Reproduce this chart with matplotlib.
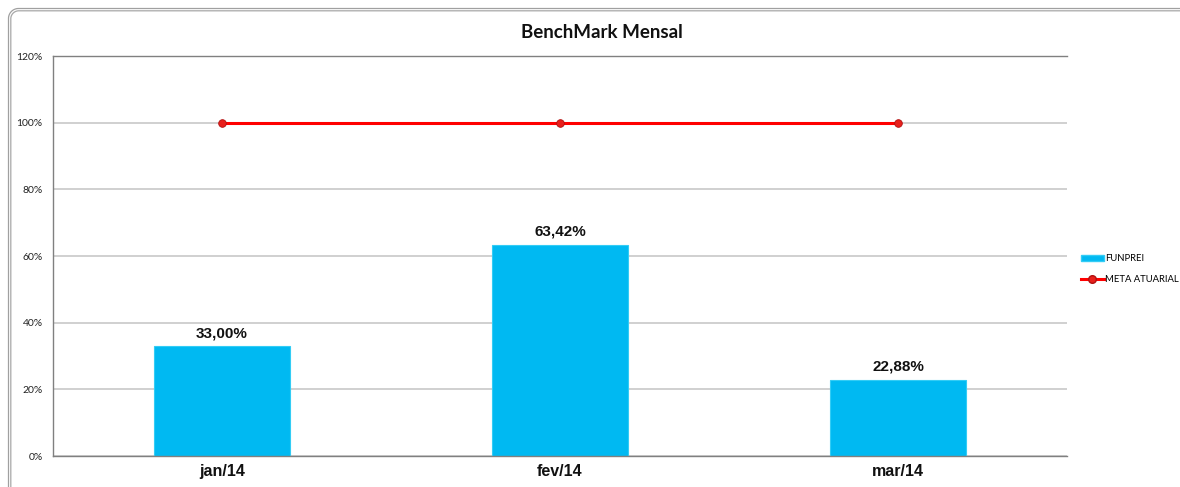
import matplotlib
matplotlib.use("Agg")
import matplotlib.pyplot as plt
from matplotlib.lines import Line2D
from matplotlib.patches import Patch
from matplotlib.transforms import IdentityTransform
import numpy as np

categories = ["jan/14", "fev/14", "mar/14"]
funprei = [33.00, 63.42, 22.88]
meta_atuarial = [100, 100, 100]
bar_labels = ["33,00%", "63,42%", "22,88%"]
yticks = [0, 20, 40, 60, 80, 100, 120]
ytick_labels = ["0%", "20%", "40%", "60%", "80%", "100%", "120%"]

W, H = 1180, 487
fig = plt.figure(figsize=(W / 100, H / 100), dpi=100)
fig.patch.set_facecolor("white")

# outer rounded frame: double line on left and top with rounded top-left corner
def frame_line(off, r, color, lw):
    cx, cy = off + r, H - off - r
    theta = np.linspace(np.pi, np.pi / 2, 24)
    fx = np.concatenate([[off], cx + r * np.cos(theta), [W + 20]])
    fy = np.concatenate([[-20], cy + r * np.sin(theta), [H - off]])
    fig.add_artist(Line2D(fx, fy, transform=IdentityTransform(), color=color,
                          linewidth=lw, zorder=0, solid_capstyle="butt"))

frame_line(8.5, 10, "#A0A0A0", 0.9)
frame_line(10.8, 8, "#A8A8A8", 0.9)

ax = fig.add_axes([53 / W, 31 / H, (1067 - 53) / W, (456 - 56) / H])
x = np.arange(len(categories))

ax.set_xlim(-0.5, len(categories) - 0.5)
ax.set_ylim(0, 120)
ax.set_yticks(yticks)
ax.set_yticklabels(ytick_labels, fontsize=7.5, color="#222222", family="Lato")
ax.yaxis.grid(True, color="#C8C8C8", linewidth=1.2, zorder=0)
ax.set_axisbelow(True)
ax.tick_params(axis="y", length=0, pad=7.5)
ax.tick_params(axis="x", length=0, pad=6)

bars = ax.bar(x, funprei, width=0.40, color="#00B9F2", edgecolor="#33CCF5",
              linewidth=0.8, zorder=2, label="FUNPREI")
for xi, v, lab in zip(x, funprei, bar_labels):
    ax.text(xi, v + 1.8, lab, ha="center", va="bottom", fontsize=11,
            fontweight="bold", family="Liberation Sans", color="#111111", zorder=4)

ax.plot(x, meta_atuarial, color="#FF0000", linewidth=2.2, marker="o",
        markersize=5.5, markerfacecolor="#E8201C", markeredgecolor="#B01010",
        markeredgewidth=0.6, zorder=3, label="META ATUARIAL")

ax.set_xticks(x)
ax.set_xticklabels(categories, fontsize=11.5, fontweight="bold",
                   family="Liberation Sans", color="#111111")

ax.spines["right"].set_visible(False)
for s in ["left", "bottom", "top"]:
    ax.spines[s].set_color("#808080")
    ax.spines[s].set_linewidth(1.0)

fig.text(602 / W, 1 - 32 / H, "BenchMark Mensal", ha="center", va="center",
         fontsize=13.5, fontweight="bold", family="Lato", color="#111111")

handles = [Patch(facecolor="#00B9F2", edgecolor="#33CCF5", label="FUNPREI"),
           Line2D([0], [0], color="#FF0000", linewidth=2.2, marker="o",
                  markersize=5.5, markerfacecolor="#E8201C",
                  markeredgecolor="#B01010", label="META ATUARIAL")]
leg = fig.legend(handles=handles, loc="center left",
                 bbox_to_anchor=(1081 / W, 1 - 269 / H), frameon=False,
                 prop={"family": "Lato", "size": 6.8}, handlelength=2.4,
                 handleheight=0.6, handletextpad=0.15, labelspacing=1.3,
                 borderaxespad=0, borderpad=0)

fig.savefig("out.png", dpi=100, facecolor="white")
